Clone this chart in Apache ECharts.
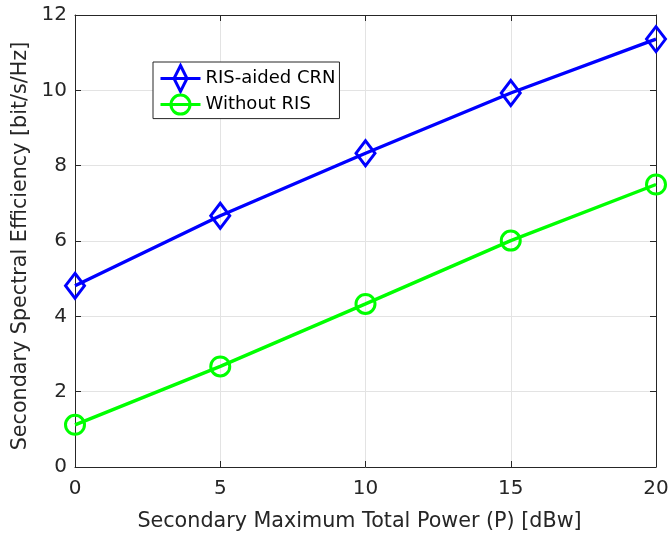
<!DOCTYPE html>
<html>
<head>
<meta charset="utf-8">
<script src="https://cdn.jsdelivr.net/npm/echarts@6/dist/echarts.min.js"></script>
<style>
html,body{margin:0;padding:0;background:#fff;}
#c{width:669px;height:535px;}
</style>
</head>
<body>
<div id="c"></div>
<script>
const powerDbw = [0, 5, 10, 15, 20];
const risAided = [4.81, 6.67, 8.33, 9.93, 11.36];
const withoutRis = [1.12, 2.67, 4.33, 6.01, 7.50];
const seriesNames = ['RIS-aided CRN', 'Without RIS'];
const xTicks = {min: 0, max: 20, interval: 5};
const yTicks = {min: 0, max: 12, interval: 2};

const FONT = '"DejaVu Sans", "Liberation Sans", Arial, sans-serif';
const AX = '#262626';
const BLUE = '#0000ff';
const GREEN = '#00ff00';

const chart = echarts.init(document.getElementById('c'), null, {renderer: 'canvas'});

function pairs(xs, ys) { return xs.map((x, i) => [x, ys[i]]); }

const baseAxis = {
  axisLine: {show: true, onZero: false, lineStyle: {color: AX, width: 1}},
  axisTick: {show: true, inside: true, length: 6, lineStyle: {color: AX}},
};

const option = {
  backgroundColor: '#fff',
  animation: false,
  grid: {left: 75, right: 13, top: 15, bottom: 68, containLabel: false, outerBoundsMode: 'none'},
  legend: {
    orient: 'vertical',
    left: 153, top: 62,
    padding: [2, 4, 3, 6],
    itemGap: 0.6,
    itemWidth: 40, itemHeight: 26,
    backgroundColor: '#fff',
    borderColor: AX, borderWidth: 1,
    textStyle: {fontFamily: FONT, fontSize: 18, color: '#000'},
    data: [
      {name: seriesNames[0],
       icon: 'path://M0 14 L40 14 M20 1 L26.5 14 L20 27 L13.5 14 Z',
       itemStyle: {color: 'rgba(0,0,0,0)', borderColor: BLUE, borderWidth: 3}},
      {name: seriesNames[1],
       icon: 'path://M0 14 L40 14 M29.5 14 A9.5 9.5 0 1 1 10.5 14 A9.5 9.5 0 1 1 29.5 14 Z',
       itemStyle: {color: 'rgba(0,0,0,0)', borderColor: GREEN, borderWidth: 3}}
    ]
  },
  xAxis: [
    Object.assign({}, baseAxis, {
      type: 'value', position: 'bottom', ...xTicks,
      name: 'Secondary Maximum Total Power (P) [dBw]',
      nameLocation: 'middle', nameGap: 44,
      nameTextStyle: {fontFamily: FONT, fontSize: 20.7, color: AX, padding: [0, 12, 0, 0]},
      axisLabel: {fontFamily: FONT, fontSize: 20, color: AX, margin: 12},
      splitLine: {show: true, lineStyle: {color: '#e3e3e3', width: 1}}
    }),
    Object.assign({}, baseAxis, {
      type: 'value', position: 'top', ...xTicks,
      axisLabel: {show: false}, splitLine: {show: false}
    })
  ],
  yAxis: [
    Object.assign({}, baseAxis, {
      type: 'value', position: 'left', ...yTicks,
      name: 'Secondary Spectral Efficiency [bit/s/Hz]',
      nameLocation: 'middle', nameGap: 37,
      nameTextStyle: {fontFamily: FONT, fontSize: 20.7, color: AX, padding: [0, 10, 0, 0]},
      axisLabel: {fontFamily: FONT, fontSize: 20, color: AX, margin: 8},
      splitLine: {show: true, lineStyle: {color: '#e3e3e3', width: 1}}
    }),
    Object.assign({}, baseAxis, {
      type: 'value', position: 'right', ...yTicks,
      axisLabel: {show: false}, splitLine: {show: false}
    })
  ],
  series: [
    {
      name: seriesNames[0], type: 'line',
      data: pairs(powerDbw, risAided),
      symbol: 'diamond', symbolSize: [19, 25],
      lineStyle: {color: BLUE, width: 3.4},
      itemStyle: {color: 'rgba(0,0,0,0)', borderColor: BLUE, borderWidth: 3},
      z: 3
    },
    {
      name: seriesNames[1], type: 'line',
      data: pairs(powerDbw, withoutRis),
      symbol: 'circle', symbolSize: 19,
      lineStyle: {color: GREEN, width: 3.4},
      itemStyle: {color: 'rgba(0,0,0,0)', borderColor: GREEN, borderWidth: 3},
      z: 3
    }
  ]
};
chart.setOption(option);
</script>
</body>
</html>
